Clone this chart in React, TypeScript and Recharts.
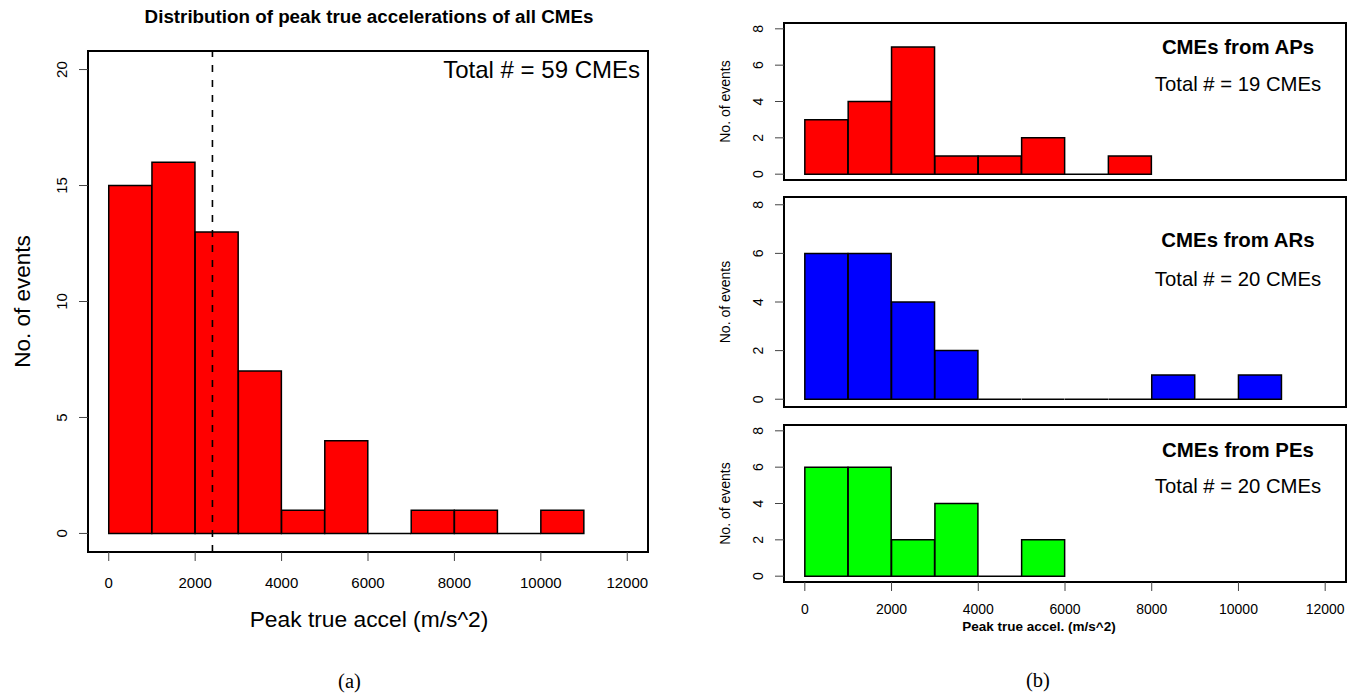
import { ComposedChart, Bar, XAxis, YAxis, ReferenceArea, ReferenceLine } from "recharts"

// histogram bins (m/s^2) and counts
const binStarts = [0, 1000, 2000, 3000, 4000, 5000, 6000, 7000, 8000, 9000, 10000]
const binWidth = 1000
const allCounts = [15, 16, 13, 7, 1, 4, 0, 1, 1, 0, 1]
const apCounts = [3, 4, 7, 1, 1, 2, 0, 1]
const arCounts = [6, 6, 4, 2, 0, 0, 0, 0, 1, 0, 1]
const peCounts = [6, 6, 2, 4, 0, 2]

const xTicks = [0, 2000, 4000, 6000, 8000, 10000, 12000]
const allYTicks = [0, 5, 10, 15, 20]
const panelYTicks = [0, 2, 4, 6, 8]
const markerAccel = 2400

const mainTitle = "Distribution of peak true accelerations of all CMEs"
const panelTitles = ["CMEs from APs", "CMEs from ARs", "CMEs from PEs"]
const xTitleLeft = "Peak true accel (m/s^2)"
const xTitleRight = "Peak true accel. (m/s^2)"
const yTitle = "No. of events"

const FONT = "'Liberation Sans', Arial, Helvetica, sans-serif"
const SERIF = "'Liberation Serif', 'DejaVu Serif', serif"

// R style axis padding (4% each side)
const pad = (lo: number, hi: number): [number, number] => [lo - (hi - lo) * 0.04, hi + (hi - lo) * 0.04]
const xDomain = pad(xTicks[0], xTicks[xTicks.length - 1])

const toRows = (counts: number[]) =>
    counts.map((count, i) => ({ mid: binStarts[i] + binWidth / 2, count }))

const total = (counts: number[]) => counts.reduce((a, b) => a + b, 0)

// bar outline that still shows a flat line when the count is 0
const HistBar = (props: any) => {
    const { x, y, width, height, fill } = props
    if (x == null || y == null) return null
    const h = height || 0
    return (
        <path
            d={`M${x},${y + h}V${y}H${x + width}V${y + h}Z`}
            fill={fill}
            stroke="#000"
            strokeWidth={1.5}
        />
    )
}

const RotTick = (props: any) => {
    const { x, y, payload, size } = props
    return (
        <text
            x={x}
            y={y}
            transform={`rotate(-90 ${x} ${y})`}
            textAnchor="middle"
            fontSize={size}
            fill="#000"
            fontFamily={FONT}
        >
            {payload.value}
        </text>
    )
}

const panels = [
    { counts: apCounts, color: "#FF0000", top: 23, bottom: 180, titleY: 54, totalY: 91, showX: false },
    { counts: arCounts, color: "#0000FF", top: 197, bottom: 407, titleY: 246.5, totalY: 286, showX: false },
    { counts: peCounts, color: "#00FF00", top: 425, bottom: 582, titleY: 456.5, totalY: 493, showX: true },
]

const MainHistogram = () => {
    const yDomain = pad(allYTicks[0], allYTicks[allYTicks.length - 1])
    return (
        <div style={{ position: "absolute", left: 0, top: 0 }}>
            <ComposedChart
                width={680}
                height={600}
                data={toRows(allCounts)}
                margin={{ top: 51, right: 32, bottom: 8, left: 28 }}
                barCategoryGap={0}
                barGap={0}
            >
                <XAxis
                    type="number"
                    dataKey="mid"
                    domain={xDomain}
                    allowDataOverflow
                    ticks={xTicks}
                    tickCount={13}
                    interval={0}
                    height={40}
                    axisLine={false}
                    tickSize={9}
                    tickMargin={16}
                    tickLine={{ stroke: "#444", strokeWidth: 1 }}
                    tick={{ fill: "#000", fontSize: 15, fontFamily: FONT }}
                />
                <YAxis
                    type="number"
                    domain={yDomain}
                    allowDataOverflow
                    ticks={allYTicks}
                    interval={0}
                    width={60}
                    axisLine={false}
                    tickSize={9}
                    tickMargin={12}
                    tickLine={{ stroke: "#444", strokeWidth: 1 }}
                    tick={<RotTick size={15} />}
                />
                <Bar dataKey="count" fill="#FF0000" shape={HistBar} isAnimationActive={false} />
                <ReferenceLine x={markerAccel} stroke="#000" strokeWidth={1.6} strokeDasharray="7 8" />
                <ReferenceArea
                    x1={xDomain[0]}
                    x2={xDomain[1]}
                    y1={yDomain[0]}
                    y2={yDomain[1]}
                    fill="none"
                    stroke="#000"
                    strokeWidth={2}
                />
            </ComposedChart>
        </div>
    )
}

const SubHistogram = ({ panel }: { panel: (typeof panels)[number] }) => {
    const yDomain = pad(panelYTicks[0], panelYTicks[panelYTicks.length - 1])
    const xAxisH = panel.showX ? 30 : 0
    return (
        <div style={{ position: "absolute", left: 700, top: panel.top - 10 }}>
            <ComposedChart
                width={654}
                height={panel.bottom - panel.top + 20 + xAxisH}
                data={toRows(panel.counts)}
                margin={{ top: 10, right: 8, bottom: 10, left: 24 }}
                barCategoryGap={0}
                barGap={0}
            >
                <XAxis
                    type="number"
                    dataKey="mid"
                    domain={xDomain}
                    allowDataOverflow
                    ticks={xTicks}
                    tickCount={13}
                    interval={0}
                    hide={!panel.showX}
                    height={xAxisH}
                    axisLine={false}
                    tickSize={9}
                    tickMargin={13}
                    tickLine={{ stroke: "#444", strokeWidth: 1 }}
                    tick={{ fill: "#000", fontSize: 14, fontFamily: FONT }}
                />
                <YAxis
                    type="number"
                    domain={yDomain}
                    allowDataOverflow
                    ticks={panelYTicks}
                    interval={0}
                    width={60}
                    axisLine={false}
                    tickSize={9}
                    tickMargin={12}
                    tickLine={{ stroke: "#444", strokeWidth: 1 }}
                    tick={<RotTick size={14} />}
                />
                <Bar dataKey="count" fill={panel.color} shape={HistBar} isAnimationActive={false} />
                <ReferenceArea
                    x1={xDomain[0]}
                    x2={xDomain[1]}
                    y1={yDomain[0]}
                    y2={yDomain[1]}
                    fill="none"
                    stroke="#000"
                    strokeWidth={2}
                />
            </ComposedChart>
        </div>
    )
}

const App = () => {
    return (
        <div
            style={{
                position: "absolute",
                left: 0,
                top: 0,
                width: 1354,
                height: 698,
                background: "#fff",
                overflow: "hidden",
                fontFamily: FONT,
            }}
        >
            <MainHistogram />
            {panels.map((p, i) => (
                <SubHistogram key={i} panel={p} />
            ))}

            {/* titles, annotations and captions */}
            <svg
                width={1354}
                height={698}
                style={{ position: "absolute", left: 0, top: 0, pointerEvents: "none" }}
                fontFamily={FONT}
            >
                <text x={369} y={22.5} textAnchor="middle" fontSize={18.8} fontWeight="bold">
                    {mainTitle}
                </text>
                <text x={640} y={78} textAnchor="end" fontSize={24}>
                    {`Total # = ${total(allCounts)} CMEs`}
                </text>
                <text
                    x={29.5}
                    y={301.5}
                    textAnchor="middle"
                    fontSize={22.5}
                    transform="rotate(-90 29.5 301.5)"
                >
                    {yTitle}
                </text>
                <text x={369} y={627} textAnchor="middle" fontSize={22.8}>
                    {xTitleLeft}
                </text>
                <text x={349.5} y={688} textAnchor="middle" fontSize={20.5} fontFamily={SERIF}>
                    (a)
                </text>

                {panels.map((p, i) => (
                    <g key={i}>
                        <text x={1238} y={p.titleY} textAnchor="middle" fontSize={20.4} fontWeight="bold">
                            {panelTitles[i]}
                        </text>
                        <text x={1238} y={p.totalY} textAnchor="middle" fontSize={20.3}>
                            {`Total # = ${total(p.counts)} CMEs`}
                        </text>
                        <text
                            x={729.5}
                            y={(p.top + p.bottom) / 2}
                            textAnchor="middle"
                            fontSize={14}
                            transform={`rotate(-90 729.5 ${(p.top + p.bottom) / 2})`}
                        >
                            {yTitle}
                        </text>
                    </g>
                ))}
                <text x={1039} y={631} textAnchor="middle" fontSize={13.5} fontWeight="bold">
                    {xTitleRight}
                </text>
                <text x={1038} y={687} textAnchor="middle" fontSize={20.5} fontFamily={SERIF}>
                    (b)
                </text>
            </svg>
        </div>
    )
}

export default App
